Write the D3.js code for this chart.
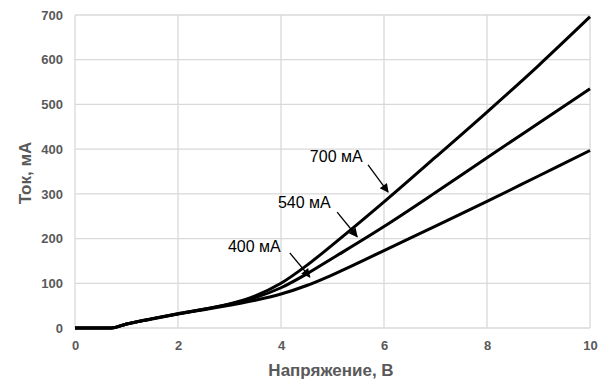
<!DOCTYPE html>
<html><head><meta charset="utf-8">
<script src="https://cdn.jsdelivr.net/npm/d3@7"></script>
<style>
body{margin:0;background:#fff;}
svg{display:block;font-family:"Liberation Sans",Arial,sans-serif;}
</style></head>
<body><svg id="c" width="608" height="385"></svg>
<script>
const voltage = [0, 0.7, 1, 1.5, 2, 2.5, 3, 3.5, 4, 4.5, 5, 6, 7, 8, 9, 10];
const i700 = [0, 0, 9, 21, 32, 42, 54, 72, 100, 140, 186, 282, 382, 483, 587, 696];
const i540 = [0, 0, 9, 21, 32, 42, 53, 68, 90, 121, 156, 227, 303, 381, 458, 535];
const i400 = [0, 0, 9, 20, 31, 41, 51, 62, 76, 95, 119, 173, 228, 283, 340, 397];
const xTicks = [0, 2, 4, 6, 8, 10];
const yTicks = [0, 100, 200, 300, 400, 500, 600, 700];
const labels = ["700 мА", "540 мА", "400 мА"];
const labelPos = [[4.56, 371], [3.94, 268], [2.97, 170]];
const arrowFrom = [[5.69, 365], [5.09, 259], [4.17, 168]];
const arrowTo = [[6.08, 304], [5.48, 204], [4.56, 114]];

const svg = d3.select("#c");
const x = d3.scaleLinear().domain([0, 10]).range([75, 590]);
const y = d3.scaleLinear().domain([0, 700]).range([328, 15]);

// grid
svg.append("g").selectAll("line").data(yTicks).join("line")
  .attr("x1", x(0)).attr("x2", x(10)).attr("y1", d => y(d)).attr("y2", d => y(d))
  .attr("stroke", "#d9d9d9").attr("stroke-width", 1.3);
svg.append("g").selectAll("line").data(xTicks).join("line")
  .attr("y1", y(0)).attr("y2", y(700)).attr("x1", d => x(d)).attr("x2", d => x(d))
  .attr("stroke", "#d9d9d9").attr("stroke-width", 1.3);

// tick labels via axes
const xAxis = svg.append("g").attr("transform", `translate(0,${y(0)})`)
  .call(d3.axisBottom(x).tickValues(xTicks).tickSize(0).tickPadding(13).tickFormat(d3.format("d")));
const yAxis = svg.append("g").attr("transform", `translate(${x(0)},0)`)
  .call(d3.axisLeft(y).tickValues(yTicks).tickSize(0).tickPadding(12).tickFormat(d3.format("d")));
[xAxis, yAxis].forEach(a => {
  a.select(".domain").remove();
  a.selectAll("text").attr("fill", "#595959").attr("font-size", 13).attr("font-weight", "bold")
    .attr("font-family", "Liberation Sans, Arial, sans-serif");
});

// axis titles
svg.append("text").attr("x", 331).attr("y", 376).attr("text-anchor", "middle")
  .attr("font-size", 17).attr("font-weight", "bold").attr("fill", "#595959").text("Напряжение, В");
svg.append("text").attr("transform", "translate(31,173) rotate(-90)").attr("text-anchor", "middle")
  .attr("font-size", 17).attr("font-weight", "bold").attr("fill", "#595959").text("Ток, мА");

// lines
const line = d3.line().x((d, i) => x(voltage[i])).y(d => y(d)).curve(d3.curveMonotoneX);
[i700, i540, i400].forEach(s => {
  svg.append("path").attr("d", line(s)).attr("fill", "none")
    .attr("stroke", "#000").attr("stroke-width", 3).attr("stroke-linejoin", "round");
});

// arrows
svg.append("defs").append("marker").attr("id", "ah").attr("viewBox", "0 0 10 10")
  .attr("refX", 9).attr("refY", 5).attr("markerWidth", 11).attr("markerHeight", 9)
  .attr("markerUnits", "userSpaceOnUse").attr("orient", "auto")
  .append("path").attr("d", "M0,0L10,5L0,10Z").attr("fill", "#000");
labels.forEach((t, i) => {
  svg.append("text").attr("x", x(labelPos[i][0])).attr("y", y(labelPos[i][1]))
    .attr("font-size", 16).attr("fill", "#000").text(t);
  svg.append("line").attr("x1", x(arrowFrom[i][0])).attr("y1", y(arrowFrom[i][1]))
    .attr("x2", x(arrowTo[i][0])).attr("y2", y(arrowTo[i][1]))
    .attr("stroke", "#000").attr("stroke-width", 1.3).attr("marker-end", "url(#ah)");
});
</script></body></html>
